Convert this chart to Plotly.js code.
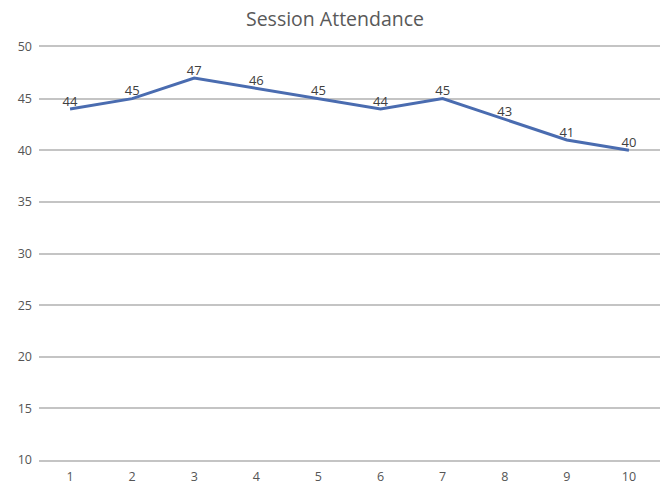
<!DOCTYPE html>
<html>
<head>
<meta charset="utf-8">
<script src="https://cdn.plot.ly/plotly-3.0.1.min.js"></script>
<style>
  html, body { margin: 0; padding: 0; background: #ffffff; }
  #chart { width: 670px; height: 491px; }
</style>
</head>
<body>
<div id="chart"></div>
<script>
// Session numbers along the x axis
const sessions = ['1', '2', '3', '4', '5', '6', '7', '8', '9', '10'];
// Attendance per session
const attendance = [44, 45, 47, 46, 45, 44, 45, 43, 41, 40];
// Value axis ticks
const yTicks = [10, 15, 20, 25, 30, 35, 40, 45, 50];

const gridColor = '#c4c4c4';
const tickFont = { family: 'Open Sans, sans-serif', size: 12.5, color: '#555555' };

const trace = {
  type: 'scatter',
  mode: 'lines+text',
  x: sessions,
  y: attendance,
  text: attendance.map(String),
  textposition: 'top center',
  textfont: { family: 'Open Sans, sans-serif', size: 13, color: '#404040' },
  line: { color: '#4a6cb0', width: 3 },
  hoverinfo: 'x+y',
  cliponaxis: false
};

const layout = {
  width: 670,
  height: 491,
  margin: { l: 39, r: 10, t: 47, b: 31 },
  paper_bgcolor: '#ffffff',
  plot_bgcolor: '#ffffff',
  showlegend: false,
  title: {
    text: 'Session Attendance',
    font: { family: 'Open Sans, sans-serif', size: 19.5, color: '#595959' },
    x: 0.5,
    xanchor: 'center',
    y: 0.975,
    yanchor: 'top'
  },
  xaxis: {
    type: 'category',
    range: [-0.5, 9.5],
    showgrid: false,
    zeroline: false,
    // top and bottom rules stand in for the 50 and 10 gridlines
    showline: true,
    mirror: true,
    linecolor: gridColor,
    linewidth: 2,
    ticks: '',
    ticklabelstandoff: 4,
    tickfont: tickFont,
    fixedrange: true
  },
  yaxis: {
    range: [10, 50],
    tickvals: yTicks,
    ticktext: yTicks.map(String),
    showgrid: true,
    gridcolor: gridColor,
    gridwidth: 2,
    zeroline: false,
    showline: false,
    ticks: '',
    ticklabelstandoff: 6,
    tickfont: tickFont,
    fixedrange: true
  }
};

Plotly.newPlot('chart', [trace], layout, { displayModeBar: false, staticPlot: true });
</script>
</body>
</html>
